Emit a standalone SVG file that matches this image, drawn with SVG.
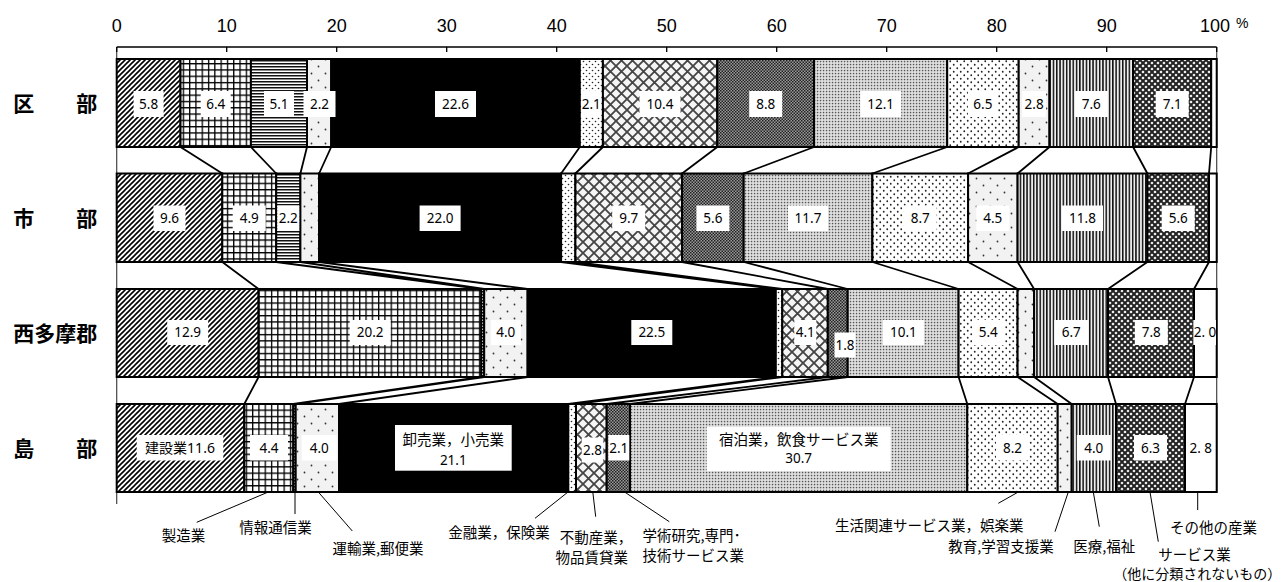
<svg xmlns="http://www.w3.org/2000/svg" width="1288" height="582" viewBox="0 0 1288 582">
<style>
.seg{stroke:#000;stroke-width:2}
.bx{fill:#fff}
.v{font-family:"Noto Sans","Noto Sans CJK JP",sans-serif;font-size:13.5px;text-anchor:middle;fill:#000}
.vj{font-family:"Noto Sans","Noto Sans CJK JP",sans-serif;font-size:14.5px;text-anchor:middle;fill:#000}
.cat{font-family:"Noto Sans CJK JP","Noto Sans",sans-serif;font-size:14.5px;fill:#000}
.row{font-family:"Noto Sans CJK JP",sans-serif;font-size:21px;font-weight:bold;fill:#000}
.ax{font-family:"Liberation Sans",Arial,sans-serif;font-size:18px;text-anchor:middle;fill:#000}
.con{stroke:#000;stroke-width:1.8;fill:none}
.ldr{stroke:#000;stroke-width:1;fill:none}
.frm{stroke:#444;stroke-width:1.2;fill:none}
</style>
<defs>
<pattern id="p1" patternUnits="userSpaceOnUse" width="5" height="5"><rect width="5" height="5" fill="#fff"/><path d="M-1,1 L1,-1 M0,5 L5,0 M4,6 L6,4" stroke="#000" stroke-width="1.6"/></pattern>
<pattern id="p2" patternUnits="userSpaceOnUse" width="6.3" height="6.3"><rect width="6.3" height="6.3" fill="#fff"/><path d="M0,0 H6.3 M0,0 V6.3" stroke="#000" stroke-width="2.6"/></pattern>
<pattern id="p3" patternUnits="userSpaceOnUse" width="6" height="3"><rect width="6" height="3" fill="#fff"/><rect y="0" width="6" height="1.5" fill="#111"/></pattern>
<pattern id="p4" patternUnits="userSpaceOnUse" width="14" height="14"><rect width="14" height="14" fill="#f2f2f2"/><circle cx="3.5" cy="3.5" r="0.9" fill="#333"/><circle cx="10.5" cy="10.5" r="0.9" fill="#333"/></pattern>
<pattern id="p6" patternUnits="userSpaceOnUse" width="6" height="6"><rect width="6" height="6" fill="#fff"/><circle cx="1.5" cy="1.5" r="0.8" fill="#222"/><circle cx="4.5" cy="4.5" r="0.8" fill="#222"/></pattern>
<pattern id="p7" patternUnits="userSpaceOnUse" width="11" height="11"><rect width="11" height="11" fill="#f5f5f5"/><path d="M0,0 L11,11 M11,0 L0,11" stroke="#444" stroke-width="1.8"/></pattern>
<pattern id="p8" patternUnits="userSpaceOnUse" width="3" height="3"><rect width="3" height="3" fill="#999"/><rect width="1.5" height="1.5" fill="#222"/><rect x="1.5" y="1.5" width="1.5" height="1.5" fill="#222"/></pattern>
<pattern id="p9" patternUnits="userSpaceOnUse" width="3" height="3"><rect width="3" height="3" fill="#e6e6e6"/><rect x="0.8" y="0.8" width="1.5" height="1.5" fill="#555"/></pattern>
<pattern id="p10" patternUnits="userSpaceOnUse" width="7" height="7"><rect width="7" height="7" fill="#fff"/><circle cx="1.75" cy="1.75" r="0.9" fill="#222"/><circle cx="5.25" cy="5.25" r="0.9" fill="#222"/></pattern>
<pattern id="p12" patternUnits="userSpaceOnUse" width="3.3" height="6"><rect width="3.3" height="6" fill="#eee"/><rect width="1.5" height="6" fill="#111"/></pattern>
<pattern id="p13" patternUnits="userSpaceOnUse" width="6" height="6"><rect width="6" height="6" fill="#fff"/><path d="M0,0 L6,6 M6,0 L0,6" stroke="#222" stroke-width="2"/></pattern>
</defs>
<rect width="1288" height="582" fill="#fff"/>

<g id="axis">
<path class="frm" d="M116.7,47 V504 M1216.7,47 V492"/>
<path d="M116.7,47 H1216.7 M116.7,47 v5 M226.7,47 v5 M336.7,47 v5 M446.7,47 v5 M556.7,47 v5 M666.7,47 v5 M776.7,47 v5 M886.7,47 v5 M996.7,47 v5 M1106.7,47 v5 M1216.7,47 v5" stroke="#000" stroke-width="1.3" fill="none"/>
<text class="ax" x="116.7" y="32">0</text>
<text class="ax" x="226.7" y="32">10</text>
<text class="ax" x="336.7" y="32">20</text>
<text class="ax" x="446.7" y="32">30</text>
<text class="ax" x="556.7" y="32">40</text>
<text class="ax" x="666.7" y="32">50</text>
<text class="ax" x="776.7" y="32">60</text>
<text class="ax" x="886.7" y="32">70</text>
<text class="ax" x="996.7" y="32">80</text>
<text class="ax" x="1106.7" y="32">90</text>
<text class="ax" x="1215" y="32">100</text>
<text x="1236" y="28" style="font-family:'Liberation Sans',Arial,sans-serif;font-size:14px">%</text>
</g>

<g id="connectors">
<path class="con" d="M180.5,147 L222.3,173.5 M250.9,147 L276.2,173.5 M307,147 L300.4,173.5 M331.2,147 L319.1,173.5 M579.8,147 L561.1,173.5 M602.9,147 L575.4,173.5 M717.3,147 L682.1,173.5 M814.1,147 L743.7,173.5 M947.2,147 L872.4,173.5 M1018.7,147 L968.1,173.5 M1049.5,147 L1017.6,173.5 M1133.1,147 L1147.4,173.5 M1211.2,147 L1209,173.5"/>
<path class="con" d="M222.3,262 L258.6,289 M276.2,262 L481.3,289 M300.4,262 L484.2,289 M319.1,262 L527.6,289 M561.1,262 L775.8,289 M575.4,262 L782.3,289 M682.1,262 L827.8,289 M743.7,262 L847.7,289 M872.4,262 L958.6,289 M968.1,262 L1017.6,289 M1017.6,262 L1034.1,289 M1147.4,262 L1108,289 M1209,262 L1194,289"/>
<path class="con" d="M258.6,377 L244.3,404 M481.3,377 L293.3,404 M484.2,377 L295.7,404 M527.6,377 L339,404 M775.8,377 L568.3,404 M782.3,377 L576,404 M827.8,377 L606.7,404 M847.7,377 L630,404 M958.6,377 L967.3,404 M1017.6,377 L1057.7,404 M1034.1,377 L1071.7,404 M1108,377 L1116,404 M1194,377 L1185,404"/>
<path class="ldr" d="M268.3,492 L196.7,522.3 M295,492 V514 M318.3,492 L352.3,531 M568,492 L535,518.3 M592.8,492 L595.7,516.7 M624.6,492 L669.3,521.7 M1018.3,492 L998.3,503.3 M1068.3,492 L1055,531.7 M1093.3,492 L1099.3,526.7 M1150,492 L1158.3,541.7 M1197.7,492 V510"/>
</g>

<g id="row-kubu">
<text class="row" x="13.3" y="111">区　　部</text>
<rect class="seg" x="116.7" y="59" width="63.8" height="88" fill="url(#p1)"/>
<rect class="seg" x="180.5" y="59" width="70.4" height="88" fill="url(#p2)"/>
<rect class="seg" x="250.9" y="59" width="56.1" height="88" fill="url(#p3)"/>
<rect class="seg" x="307" y="59" width="24.2" height="88" fill="url(#p4)"/>
<rect class="seg" x="331.2" y="59" width="248.6" height="88" fill="#000"/>
<rect class="seg" x="579.8" y="59" width="23.1" height="88" fill="url(#p6)"/>
<rect class="seg" x="602.9" y="59" width="114.4" height="88" fill="url(#p7)"/>
<rect class="seg" x="717.3" y="59" width="96.8" height="88" fill="url(#p8)"/>
<rect class="seg" x="814.1" y="59" width="133.1" height="88" fill="url(#p9)"/>
<rect class="seg" x="947.2" y="59" width="71.5" height="88" fill="url(#p10)"/>
<rect class="seg" x="1018.7" y="59" width="30.8" height="88" fill="url(#p4)"/>
<rect class="seg" x="1049.5" y="59" width="83.6" height="88" fill="url(#p12)"/>
<rect class="seg" x="1133.1" y="59" width="78.1" height="88" fill="url(#p13)"/>
<rect class="seg" x="1211.2" y="59" width="5.5" height="88" fill="#fff"/>
<rect class="bx" x="133.6" y="91" width="30" height="26"/><text class="v" x="148.6" y="108.8">5.8</text>
<rect class="bx" x="200.7" y="91" width="30" height="26"/><text class="v" x="215.7" y="108.8">6.4</text>
<rect class="bx" x="264" y="91" width="30" height="26"/><text class="v" x="279" y="108.8">5.1</text>
<rect class="bx" x="303.5" y="91" width="32" height="26"/><text class="v" x="319.5" y="108.8">2.2</text>
<rect class="bx" x="435" y="91" width="41" height="26"/><text class="v" x="455.5" y="108.8">22.6</text>
<rect class="bx" x="581.3" y="91" width="20" height="26"/><text class="v" x="591.3" y="108.8">2.1</text>
<rect class="bx" x="639.5" y="91" width="41" height="26"/><text class="v" x="660" y="108.8">10.4</text>
<rect class="bx" x="749.2" y="91" width="33" height="26"/><text class="v" x="765.7" y="108.8">8.8</text>
<rect class="bx" x="860.2" y="91" width="41" height="26"/><text class="v" x="880.7" y="108.8">12.1</text>
<rect class="bx" x="967.9" y="91" width="30" height="26"/><text class="v" x="982.9" y="108.8">6.5</text>
<rect class="bx" x="1022.1" y="91" width="24" height="26"/><text class="v" x="1034.1" y="108.8">2.8</text>
<rect class="bx" x="1074.8" y="91" width="33" height="26"/><text class="v" x="1091.3" y="108.8">7.6</text>
<rect class="bx" x="1155.7" y="91" width="33" height="26"/><text class="v" x="1172.2" y="108.8">7.1</text>
</g>

<g id="row-shibu">
<text class="row" x="13.3" y="226">市　　部</text>
<rect class="seg" x="116.7" y="173.5" width="105.6" height="88.5" fill="url(#p1)"/>
<rect class="seg" x="222.3" y="173.5" width="53.9" height="88.5" fill="url(#p2)"/>
<rect class="seg" x="276.2" y="173.5" width="24.2" height="88.5" fill="url(#p3)"/>
<rect class="seg" x="300.4" y="173.5" width="18.7" height="88.5" fill="url(#p4)"/>
<rect class="seg" x="319.1" y="173.5" width="242" height="88.5" fill="#000"/>
<rect class="seg" x="561.1" y="173.5" width="14.3" height="88.5" fill="url(#p6)"/>
<rect class="seg" x="575.4" y="173.5" width="106.7" height="88.5" fill="url(#p7)"/>
<rect class="seg" x="682.1" y="173.5" width="61.6" height="88.5" fill="url(#p8)"/>
<rect class="seg" x="743.7" y="173.5" width="128.7" height="88.5" fill="url(#p9)"/>
<rect class="seg" x="872.4" y="173.5" width="95.7" height="88.5" fill="url(#p10)"/>
<rect class="seg" x="968.1" y="173.5" width="49.5" height="88.5" fill="url(#p4)"/>
<rect class="seg" x="1017.6" y="173.5" width="129.8" height="88.5" fill="url(#p12)"/>
<rect class="seg" x="1147.4" y="173.5" width="61.6" height="88.5" fill="url(#p13)"/>
<rect class="seg" x="1209" y="173.5" width="7.7" height="88.5" fill="#fff"/>
<rect class="bx" x="153.5" y="205.5" width="32" height="25.5"/><text class="v" x="169.5" y="222.8">9.6</text>
<rect class="bx" x="232.7" y="205.5" width="33" height="25.5"/><text class="v" x="249.2" y="222.8">4.9</text>
<rect class="bx" x="277.3" y="205.5" width="22" height="25.5"/><text class="v" x="288.3" y="222.8">2.2</text>
<rect class="bx" x="419.6" y="205.5" width="41" height="25.5"/><text class="v" x="440.1" y="222.8">22.0</text>
<rect class="bx" x="612.2" y="205.5" width="33" height="25.5"/><text class="v" x="628.7" y="222.8">9.7</text>
<rect class="bx" x="696.4" y="205.5" width="33" height="25.5"/><text class="v" x="712.9" y="222.8">5.6</text>
<rect class="bx" x="788" y="205.5" width="40" height="25.5"/><text class="v" x="808" y="222.8">11.7</text>
<rect class="bx" x="903.7" y="205.5" width="33" height="25.5"/><text class="v" x="920.2" y="222.8">8.7</text>
<rect class="bx" x="976.3" y="205.5" width="33" height="25.5"/><text class="v" x="992.8" y="222.8">4.5</text>
<rect class="bx" x="1062" y="205.5" width="41" height="25.5"/><text class="v" x="1082.5" y="222.8">11.8</text>
<rect class="bx" x="1161.7" y="205.5" width="33" height="25.5"/><text class="v" x="1178.2" y="222.8">5.6</text>
</g>

<g id="row-nishitama">
<text class="row" x="13.3" y="341">西多摩郡</text>
<rect class="seg" x="116.7" y="289" width="141.9" height="88" fill="url(#p1)"/>
<rect class="seg" x="258.6" y="289" width="222.7" height="88" fill="url(#p2)"/>
<rect class="seg" x="481.3" y="289" width="2.9" height="88" fill="url(#p3)"/>
<rect class="seg" x="484.2" y="289" width="43.4" height="88" fill="url(#p4)"/>
<rect class="seg" x="527.6" y="289" width="248.2" height="88" fill="#000"/>
<rect class="seg" x="775.8" y="289" width="6.5" height="88" fill="url(#p6)"/>
<rect class="seg" x="782.3" y="289" width="45.5" height="88" fill="url(#p7)"/>
<rect class="seg" x="827.8" y="289" width="19.9" height="88" fill="url(#p8)"/>
<rect class="seg" x="847.7" y="289" width="110.9" height="88" fill="url(#p9)"/>
<rect class="seg" x="958.6" y="289" width="59" height="88" fill="url(#p10)"/>
<rect class="seg" x="1017.6" y="289" width="16.5" height="88" fill="url(#p4)"/>
<rect class="seg" x="1034.1" y="289" width="73.9" height="88" fill="url(#p12)"/>
<rect class="seg" x="1108" y="289" width="86" height="88" fill="url(#p13)"/>
<rect class="seg" x="1194" y="289" width="22.7" height="88" fill="#fff"/>
<rect class="bx" x="167.2" y="320" width="41" height="25"/><text class="v" x="187.7" y="337.3">12.9</text>
<rect class="bx" x="349.7" y="320" width="41" height="25"/><text class="v" x="370.2" y="337.3">20.2</text>
<rect class="bx" x="490.8" y="320" width="30" height="25"/><text class="v" x="505.8" y="337.3">4.0</text>
<rect class="bx" x="631.3" y="320" width="41" height="25"/><text class="v" x="651.8" y="337.3">22.5</text>
<rect class="bx" x="794.3" y="320" width="22" height="25"/><text class="v" x="805.3" y="337.3">4.1</text>
<rect class="bx" x="834.5" y="332.5" width="21" height="25"/><text class="v" x="845" y="349.8">1.8</text>
<rect class="bx" x="882.9" y="320" width="41" height="25"/><text class="v" x="903.4" y="337.3">10.1</text>
<rect class="bx" x="972.3" y="320" width="32" height="25"/><text class="v" x="988.3" y="337.3">5.4</text>
<rect class="bx" x="1054.2" y="320" width="34" height="25"/><text class="v" x="1071.2" y="337.3">6.7</text>
<rect class="bx" x="1134.8" y="320" width="33" height="25"/><text class="v" x="1151.3" y="337.3">7.8</text>
<rect class="bx" x="1193.3" y="320" width="22.7" height="25"/><text class="v" x="1205" y="337.3">2. 0</text>
</g>

<g id="row-tobu">
<text class="row" x="13.3" y="456">島　　部</text>
<rect class="seg" x="116.7" y="404" width="127.6" height="88" fill="url(#p1)"/>
<rect class="seg" x="244.3" y="404" width="49" height="88" fill="url(#p2)"/>
<rect class="seg" x="293.3" y="404" width="2.4" height="88" fill="url(#p3)"/>
<rect class="seg" x="295.7" y="404" width="43.3" height="88" fill="url(#p4)"/>
<rect class="seg" x="339" y="404" width="229.3" height="88" fill="#000"/>
<rect class="seg" x="568.3" y="404" width="7.7" height="88" fill="url(#p6)"/>
<rect class="seg" x="576" y="404" width="30.7" height="88" fill="url(#p7)"/>
<rect class="seg" x="606.7" y="404" width="23.3" height="88" fill="url(#p8)"/>
<rect class="seg" x="630" y="404" width="337.3" height="88" fill="url(#p9)"/>
<rect class="seg" x="967.3" y="404" width="90.4" height="88" fill="url(#p10)"/>
<rect class="seg" x="1057.7" y="404" width="14" height="88" fill="url(#p4)"/>
<rect class="seg" x="1071.7" y="404" width="44.3" height="88" fill="url(#p12)"/>
<rect class="seg" x="1116" y="404" width="69" height="88" fill="url(#p13)"/>
<rect class="seg" x="1185" y="404" width="31.7" height="88" fill="#fff"/>
<rect class="bx" x="136.7" y="435" width="86.6" height="25.5"/><text class="vj" x="180" y="452.8" style="font-size:14px">建設業11.6</text>
<rect class="bx" x="250" y="435" width="38" height="25.5"/><text class="v" x="269" y="452.8">4.4</text>
<rect class="bx" x="301.7" y="435" width="35" height="25.5"/><text class="v" x="319.2" y="452.8">4.0</text>
<rect class="bx" x="395" y="425" width="116.7" height="45.7"/><text class="vj" x="453.3" y="445.3">卸売業，小売業</text><text class="v" x="453.3" y="464.8">21.1</text>
<rect class="bx" x="581.7" y="437.5" width="21.6" height="25"/><text class="v" x="592.5" y="454.8">2.8</text>
<rect class="bx" x="608.3" y="435" width="21" height="25.5"/><text class="v" x="618.8" y="452.8">2.1</text>
<rect class="bx" x="706.7" y="426.7" width="184" height="44.3"/><text class="vj" x="798.7" y="445.3">宿泊業，飲食サービス業</text><text class="v" x="798.7" y="463.1">30.7</text>
<rect class="bx" x="996" y="435" width="33" height="25.5"/><text class="v" x="1012.5" y="452.8">8.2</text>
<rect class="bx" x="1076.8" y="435" width="34" height="25.5"/><text class="v" x="1093.8" y="452.8">4.0</text>
<rect class="bx" x="1134" y="435" width="33" height="25.5"/><text class="v" x="1150.5" y="452.8">6.3</text>
<text class="v" x="1200.8" y="452.8">2. 8</text>
</g>

<g id="category-labels">
<text class="cat" x="161.7" y="540.5">製造業</text>
<text class="cat" x="239.3" y="532.5">情報通信業</text>
<text class="cat" x="332.5" y="553.8">運輸業,郵便業</text>
<text class="cat" x="448.2" y="537.5">金融業，保険業</text>
<text class="cat" x="559.8" y="542.5">不動産業，</text>
<text class="cat" x="555.6" y="562.5">物品賃貸業</text>
<text class="cat" x="642.4" y="541">学術研究,専門･</text>
<text class="cat" x="642.4" y="561">技術サービス業</text>
<text class="cat" x="835" y="530.5">生活関連サービス業，娯楽業</text>
<text class="cat" x="948.3" y="551.5">教育,学習支援業</text>
<text class="cat" x="1073.3" y="551.5">医療,福祉</text>
<text class="cat" x="1170" y="533.2">その他の産業</text>
<text class="cat" x="1158.3" y="559.8">サービス業</text>
<text class="cat" x="1113.3" y="578.5" style="font-size:14px">（他に分類されないもの）</text>
</g>
</svg>
